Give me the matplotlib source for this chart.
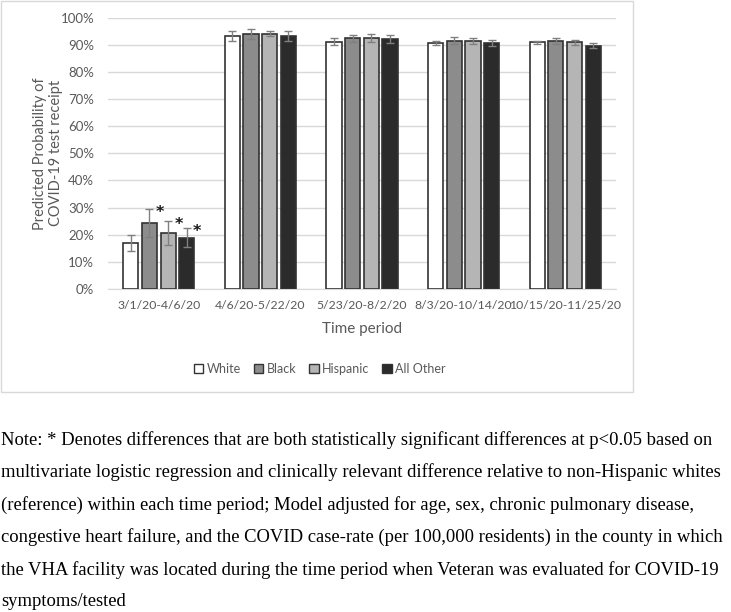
import matplotlib.pyplot as plt
import numpy as np
from matplotlib.patches import Rectangle
from matplotlib.ticker import PercentFormatter

# Datos
periodos = ['3/1/20-4/6/20', '4/6/20-5/22/20', '5/23/20-8/2/20',
            '8/3/20-10/14/20', '10/15/20-11/25/20']
grupos = ['White', 'Black', 'Hispanic', 'All Other']

white = [0.170, 0.932, 0.911, 0.907, 0.908]
black = [0.243, 0.938, 0.923, 0.915, 0.914]
hispanic = [0.206, 0.941, 0.925, 0.915, 0.908]
all_other = [0.189, 0.932, 0.920, 0.906, 0.896]

err_white = [0.030, 0.017, 0.012, 0.008, 0.005]
err_black = [0.052, 0.018, 0.013, 0.013, 0.010]
err_hispanic = [0.045, 0.010, 0.014, 0.011, 0.010]
err_all_other = [0.036, 0.020, 0.014, 0.012, 0.010]

# asteriscos: (grupo, periodo)
significativos = [(1, 0), (2, 0), (3, 0)]

valores = [white, black, hispanic, all_other]
errores = [err_white, err_black, err_hispanic, err_all_other]
colores = ['#ffffff', '#8c8c8c', '#b5b5b5', '#2b2b2b']

texto_gris = '#595959'
plt.rcParams['font.family'] = ['Lato', 'DejaVu Sans']

fig = plt.figure(figsize=(7.31, 6.12), dpi=100)
ax = fig.add_axes([0.1477, 0.5278, 0.6950, 0.4436])

x = np.arange(len(periodos))
paso = 0.184
ancho = 0.15
for i, (vals, errs, col) in enumerate(zip(valores, errores, colores)):
    pos = x + (i - 1.5) * paso
    ax.bar(pos, vals, width=ancho, color=col, edgecolor='#333333',
           linewidth=1.2, label=grupos[i], zorder=3)
    ax.errorbar(pos, vals, yerr=errs, fmt='none', ecolor='#808080',
                elinewidth=1, capsize=3, capthick=1, zorder=4)

for g, p in significativos:
    xp = x[p] + (g - 1.5) * paso + 0.06
    yp = valores[g][p] + errores[g][p] - 0.012
    ax.text(xp, yp, '*', fontsize=11.5, fontweight='bold', color='#1a1a1a',
            ha='left', va='center', family='DejaVu Sans')

ax.set_xlim(-0.5, 4.5)
ax.set_ylim(0, 1)
ax.set_yticks(np.arange(0, 1.01, 0.1))
ax.yaxis.set_major_formatter(PercentFormatter(1.0, decimals=0))
ax.set_xticks(x)
ax.set_xticklabels(periodos)
ax.grid(axis='y', color='#d9d9d9', linewidth=1, zorder=0)
for s in ['top', 'right', 'left']:
    ax.spines[s].set_visible(False)
ax.spines['bottom'].set_color('#d9d9d9')
ax.tick_params(length=0, labelsize=8.8, colors=texto_gris, pad=8)
ax.tick_params(axis='y', labelsize=9.5, pad=10)
ax.set_xlabel('Time period', fontsize=11, color=texto_gris, labelpad=8)
ax.set_ylabel('Predicted Probability of\nCOVID-19 test receipt', fontsize=10.5,
              color=texto_gris)
ax.yaxis.set_label_coords(-0.088, 0.5)

leg = fig.legend(loc='center', bbox_to_anchor=(320 / 731, 1 - 369 / 612),
                 ncol=4, frameon=False, fontsize=9, handlelength=0.75,
                 handleheight=0.75, handletextpad=0.3, columnspacing=1.0)
for t in leg.get_texts():
    t.set_color(texto_gris)
for h in leg.legend_handles:
    h.set_linewidth(1)

# marco del grafico
fig.patches.append(Rectangle((1 / 731, 1 - 392 / 612), 632 / 731, 391 / 612,
                             transform=fig.transFigure, fill=False,
                             edgecolor='#d9d9d9', linewidth=1))

nota = [
    'Note: * Denotes differences that are both statistically significant differences at p<0.05 based on',
    'multivariate logistic regression and clinically relevant difference relative to non-Hispanic whites',
    '(reference) within each time period; Model adjusted for age, sex, chronic pulmonary disease,',
    'congestive heart failure, and the COVID case-rate (per 100,000 residents) in the county in which',
    'the VHA facility was located during the time period when Veteran was evaluated for COVID-19',
    'symptoms/tested',
]
for k, linea in enumerate(nota):
    fig.text(1 / 731, 1 - (440 + 32.4 * k) / 612, linea, fontsize=13.4,
             family='Liberation Serif', color='black', ha='left', va='center')

fig.savefig('out.png', dpi=100)
